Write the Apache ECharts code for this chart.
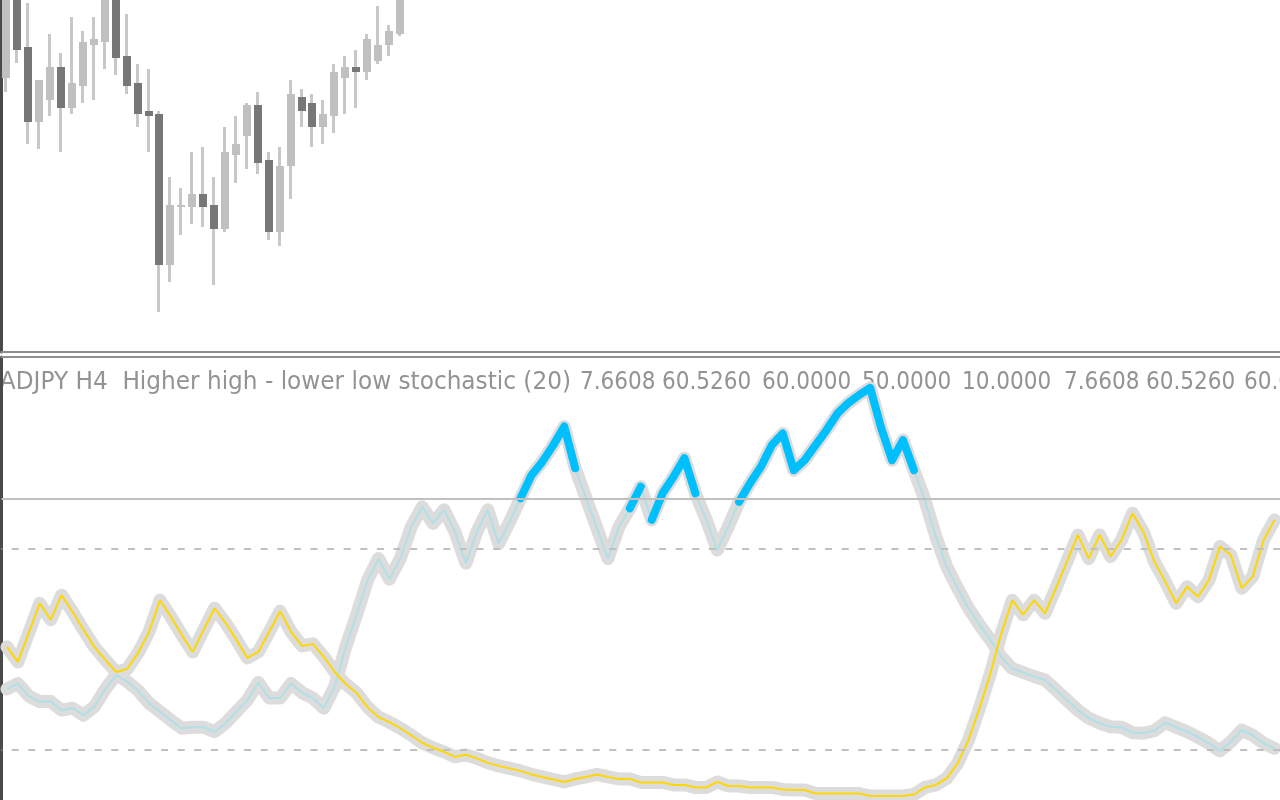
<!DOCTYPE html>
<html><head><meta charset="utf-8">
<script src="https://cdn.jsdelivr.net/npm/echarts@6/dist/echarts.min.js"></script>
<style>html,body{margin:0;padding:0;background:#fff;overflow:hidden}#c{width:1280px;height:800px}</style>
</head><body><div id="c"></div>
<script>
// ---- price panel (CADJPY H4 candles, visible part) ----
const opens  = [85.189,85.520,85.312,85.013,85.101,85.232,85.069,85.157,85.321,85.332,85.520,85.276,85.168,85.056,85.044,84.440,84.673,84.673,84.724,84.680,84.584,84.881,84.957,85.080,84.860,84.573,84.837,85.112,85.088,84.992,85.037,85.189,85.232,85.213,85.256,85.321,85.365];
const closes = [85.540,85.300,85.013,85.180,85.232,85.069,85.168,85.332,85.344,85.532,85.269,85.157,85.045,85.037,84.440,84.680,84.680,84.724,84.673,84.584,84.892,84.924,85.080,84.848,84.573,84.837,85.124,85.056,84.992,85.044,85.212,85.232,85.213,85.344,85.321,85.376,85.520];
const lows   = [85.133,85.247,84.924,84.905,85.037,84.893,85.045,85.089,85.101,85.225,85.201,85.125,84.993,84.893,84.253,84.373,84.560,84.605,84.593,84.360,84.573,84.769,84.825,84.805,84.541,84.517,84.704,84.992,84.913,84.924,84.969,85.045,85.069,85.180,85.244,85.276,85.357];
const highs  = [85.580,85.560,85.489,85.180,85.364,85.289,85.433,85.376,85.433,85.560,85.548,85.444,85.244,85.224,85.056,84.792,84.748,84.892,84.912,84.792,84.992,85.036,85.088,85.132,84.892,84.912,85.180,85.144,85.124,85.100,85.244,85.276,85.300,85.364,85.476,85.400,85.560];
const priceMin = 84.092, priceMax = 85.5;

// ---- indicator panel: Higher high - lower low stochastic (20) ----
const yellowLine = [30.4,27.4,33.2,39.1,35.8,40.7,37.4,33.8,30.4,27.8,25.4,26.0,29.2,33.4,39.7,36.4,32.8,29.4,33.8,38.1,35.2,31.8,28.2,29.4,33.4,37.5,33.4,30.6,31.0,28.4,25.4,23.0,21.2,18.4,16.4,15.4,14.2,12.8,11.3,10.3,9.5,8.5,8.9,8.2,7.3,6.7,6.2,5.7,5.0,4.5,4.0,3.5,4.1,4.5,5.0,4.5,4.1,4.1,3.4,3.4,3.4,2.9,2.9,2.4,2.4,3.5,2.7,2.7,2.4,2.4,2.4,2.0,1.9,1.9,1.2,1.2,1.2,1.2,1.2,0.7,0.7,0.7,0.7,1.0,2.4,2.9,4.2,7.2,11.9,18.2,25.1,33.1,39.7,36.8,39.7,37.1,42.1,47.4,52.7,48.0,52.7,48.4,51.7,57.0,53.3,47.4,43.4,39.1,42.4,40.4,43.7,50.4,48.7,42.1,44.4,51.7,55.7];
const blueLine = [22.0,23.1,20.6,19.5,19.5,17.8,18.2,16.8,18.5,22.0,24.8,23.5,21.7,19.2,17.5,15.8,14.2,14.4,14.4,13.5,15.2,17.5,19.8,23.3,20.2,20.2,23.1,21.3,20.2,18.2,22.5,30.4,36.8,43.7,48.0,43.9,48.0,54.3,58.3,55.0,57.7,53.3,47.1,53.3,57.7,51.0,55.3,60.0,64.6,67.3,70.6,74.3,66.0,60.0,54.0,48.0,54.3,58.0,62.3,55.7,61.0,64.3,68.0,61.0,55.7,49.7,54.3,59.3,63.0,66.3,70.6,72.9,65.6,67.6,70.6,73.6,76.9,79.0,80.6,82.0,74.0,67.6,71.6,65.6,59.7,52.4,46.4,42.1,38.1,34.8,31.8,28.4,26.1,25.3,24.5,23.8,21.8,19.8,17.8,16.2,15.2,14.5,14.4,13.3,13.2,13.7,15.3,14.4,13.5,12.4,11.2,9.7,11.5,13.8,12.8,11.2,10.2];
// bar ranges where the strong-trend (deep sky blue) buffer is drawn
const trendSegments = [[47,52],[57,58],[59,63],[67,83]];
const levels = [60, 50, 10];
const levelSolid = [60];
const indMin = 0, indMax = 88.15;
const labelTitle = 'CADJPY H4  Higher high - lower low stochastic (20)';
const labelValues = ['7.6608','60.5260','60.0000','50.0000','10.0000','7.6608','60.5260','60.0000'];

// ---- layout (pixel positions of the label pieces) ----
const titleRight = 571;
const valueX = [580,662,762,862,962,1064,1146,1244];

const categories = yellowLine.map((_, i) => String(i + 1));
const candleData = opens.map((o, i) => [i, o, closes[i], lows[i], highs[i]]);

const chart = echarts.init(document.getElementById('c'), null, {renderer: 'canvas'});
const HALO = '#dcdcdc';

const series = [
  {
    type: 'custom', xAxisIndex: 0, yAxisIndex: 0, data: candleData,
    encode: {x: 0, y: [1, 2, 3, 4]}, clip: true, z: 2,
    renderItem: function (params, api) {
      const i = api.value(0), o = api.value(1), c = api.value(2), l = api.value(3), h = api.value(4);
      const pO = api.coord([i, o]), pC = api.coord([i, c]);
      const yL = Math.round(api.coord([i, l])[1]), yH = Math.round(api.coord([i, h])[1]);
      const cx = pO[0];
      const band = api.size([1, 0])[0];
      const bw = Math.round(band * 0.73);
      const top = Math.round(Math.min(pO[1], pC[1])), bot = Math.round(Math.max(pO[1], pC[1]));
      return {type: 'group', children: [
        {type: 'rect', shape: {x: Math.floor(cx - 2), y: yH, width: 3, height: yL - yH}, style: {fill: '#c8c8c8'}},
        {type: 'rect', shape: {x: Math.floor(cx - bw / 2), y: top, width: bw, height: Math.max(bot - top, 2)},
         style: {fill: c >= o ? '#c0c0c0' : '#777777'}}
      ]};
    }
  },
  {type: 'line', xAxisIndex: 1, yAxisIndex: 1, data: yellowLine, symbol: 'none', clip: false, z: 1,
   lineStyle: {color: HALO, width: 13, join: 'round', cap: 'round'}, silent: true},
  {type: 'line', xAxisIndex: 1, yAxisIndex: 1, data: blueLine, symbol: 'none', clip: false, z: 1,
   lineStyle: {color: HALO, width: 13, join: 'round', cap: 'round'}, silent: true},
  {type: 'line', xAxisIndex: 1, yAxisIndex: 1, data: [], z: 2, silent: true,
   markLine: {silent: true, symbol: 'none', label: {show: false}, animation: false,
     data: levels.map(v => ({yAxis: v, lineStyle: levelSolid.includes(v)
       ? {color: '#c0c0c0', width: 2, type: 'solid'}
       : {color: '#c0c0c0', width: 2, type: [7, 9.6], dashOffset: 6.4}}))}},
  {type: 'line', xAxisIndex: 1, yAxisIndex: 1, data: blueLine, symbol: 'none', clip: false, z: 3,
   lineStyle: {color: '#b0e0e6', width: 2}, silent: true},
  {type: 'line', xAxisIndex: 1, yAxisIndex: 1, data: yellowLine, symbol: 'none', clip: false, z: 3,
   lineStyle: {color: '#ffd700', width: 2}, silent: true}
];
trendSegments.forEach(([s, e]) => {
  series.push({type: 'line', xAxisIndex: 1, yAxisIndex: 1, symbol: 'none', clip: false, z: 4, silent: true,
    data: blueLine.map((v, i) => (i >= s && i <= e ? v : null)),
    lineStyle: {color: '#00bfff', width: 8, cap: 'round', join: 'round'}});
});

const axisX = (idx, pos, color) => ({
  type: 'category', gridIndex: idx, data: categories, boundaryGap: true, position: pos,
  axisLine: {show: true, onZero: false, lineStyle: {color: color, width: 2}}, axisTick: {show: false},
  axisLabel: {show: false}, splitLine: {show: false}
});
const axisY = (idx, min, max) => ({
  type: 'value', gridIndex: idx, min: min, max: max, position: 'left',
  axisLine: {show: true, onZero: false, lineStyle: {color: '#4a4a4a', width: 3}}, axisTick: {show: false},
  axisLabel: {show: false}, splitLine: {show: false}
});

const labelFont = '24px "DejaVu Sans Condensed", "DejaVu Sans", sans-serif';
const labelStyle = (text, align) => ({text: text, fill: '#939393', font: labelFont, align: align, verticalAlign: 'middle'});
chart.setOption({
  animation: false,
  backgroundColor: '#ffffff',
  grid: [
    {left: 1.5, top: 0, width: 1287, height: 352},
    {left: 1.5, top: 357, width: 1287, height: 442.5}
  ],
  xAxis: [axisX(0, 'bottom', '#8f8f8f'), axisX(1, 'top', '#8f8f8f')],
  yAxis: [axisY(0, priceMin, priceMax), axisY(1, indMin, indMax)],
  graphic: [{type: 'text', x: titleRight, y: 383, z: 0, silent: true, scaleX: 1.075,
             style: labelStyle(labelTitle, 'right')}]
    .concat(labelValues.map((w, k) => ({type: 'text', x: valueX[k], y: 383, z: 0, silent: true,
             style: labelStyle(w, 'left')}))),
  series: series
});
</script></body></html>
